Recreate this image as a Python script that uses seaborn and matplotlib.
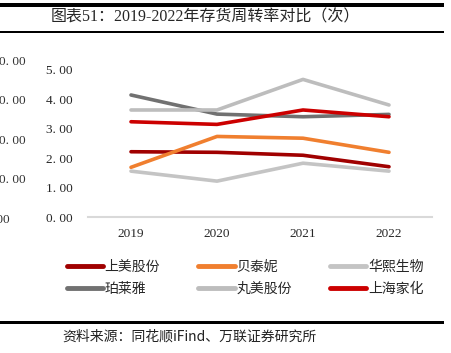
import numpy as np
import pandas as pd
import matplotlib
matplotlib.use('Agg')
import matplotlib.pyplot as plt
import seaborn as sns
from matplotlib.lines import Line2D
from matplotlib.patches import Rectangle

years = ['2019', '2020', '2021', '2022']
shangmei = [2.22, 2.20, 2.10, 1.71]
beitaini = [1.69, 2.74, 2.68, 2.20]
huaxi = [1.56, 1.22, 1.83, 1.56]
proya = [4.15, 3.50, 3.41, 3.49]
marubi = [3.64, 3.64, 4.68, 3.81]
jahwa = [3.24, 3.15, 3.64, 3.41]
y_ticks = [0, 1, 2, 3, 4, 5]
y_tick_labels = ['0. 00', '1. 00', '2. 00', '3. 00', '4. 00', '5. 00']

series = {
    '上美股份': shangmei,
    '贝泰妮': beitaini,
    '华熙生物': huaxi,
    '珀莱雅': proya,
    '丸美股份': marubi,
    '上海家化': jahwa,
}
palette = {
    '上美股份': '#A00000',
    '贝泰妮': '#F07F2F',
    '华熙生物': '#C4C4C4',
    '珀莱雅': '#717171',
    '丸美股份': '#BDBDBD',
    '上海家化': '#CC0000',
}

rows = []
for name, vals in series.items():
    for i, v in enumerate(vals):
        rows.append({'公司': name, 'x': i, '年份': years[i], '值': v})
df = pd.DataFrame(rows)

sns.set_theme(style='white')
plt.rcParams['font.family'] = ['Liberation Serif', 'Noto Sans CJK SC', 'DejaVu Sans']

fig = plt.figure(figsize=(4.51, 3.53), dpi=100)
fig.patch.set_facecolor('white')
ax = fig.add_axes([88 / 451, 1 - 217 / 353, 344 / 451, 147 / 353])

sns.lineplot(data=df, x='x', y='值', hue='公司', palette=palette,
             hue_order=list(series.keys()), linewidth=2.6, ax=ax, legend=False)

ax.set_xlim(-0.5, 3.5)
ax.set_ylim(0, 5)
ax.set_xticks(range(len(years)))
ax.set_xticklabels(years, fontsize=9.5)
ax.set_yticks(y_ticks)
ax.set_yticklabels(y_tick_labels, fontsize=9.5)
ax.set_xlabel('')
ax.set_ylabel('')
ax.tick_params(axis='both', length=0)
ax.tick_params(axis='y', pad=11)
ax.tick_params(axis='x', pad=8)
for s in ['top', 'right', 'left']:
    ax.spines[s].set_visible(False)
ax.spines['bottom'].set_color('#D9D9D9')
ax.spines['bottom'].set_linewidth(1.5)

# legend, row-major order
order = ['上美股份', '珀莱雅', '贝泰妮', '丸美股份', '华熙生物', '上海家化']
handles = [Line2D([0], [0], color=palette[n], linewidth=3.5, solid_capstyle='round') for n in order]
leg = fig.legend(handles, order, loc='upper left', bbox_to_anchor=(54 / 451, 1 - 247 / 353),
                 ncol=3, frameon=False, handlelength=2.6, handletextpad=0.15,
                 columnspacing=2.75, labelspacing=0.6,
                 prop={'family': ['Noto Sans CJK SC'], 'size': 10})

# frame rules (top, under title, above source)
for y_top, h in [(3.5, 3.0), (30.5, 2.2), (320.5, 3.0)]:
    fig.patches.append(Rectangle((0, 1 - (y_top + h) / 353), 444 / 451, h / 353,
                                 transform=fig.transFigure, facecolor='black',
                                 edgecolor='none', figure=fig))

fig.text(205 / 451, 1 - 17.5 / 353, '图表51：2019-2022年存货周转率对比（次）', ha='center', va='center',
         fontsize=11.5, family=['Liberation Serif', 'Noto Sans CJK SC'])
fig.text(62 / 451, 1 - 337 / 353, '资料来源：同花顺iFind、万联证券研究所', ha='left', va='center',
         fontsize=10, style='italic', family=['Noto Sans CJK SC'], color='#222222')

# leftover tick labels from a neighbouring chart at the left edge
for yy in [62, 101, 141, 180]:
    fig.text(26 / 451, 1 - yy / 353, '0. 00', ha='right', va='center', fontsize=9.5,
             family=['Liberation Serif'], color='#333333')
fig.text(10 / 451, 1 - 220 / 353, '0. 00', ha='right', va='center', fontsize=9.5,
         family=['Liberation Serif'], color='#333333')

fig.savefig('out.png', dpi=100)
